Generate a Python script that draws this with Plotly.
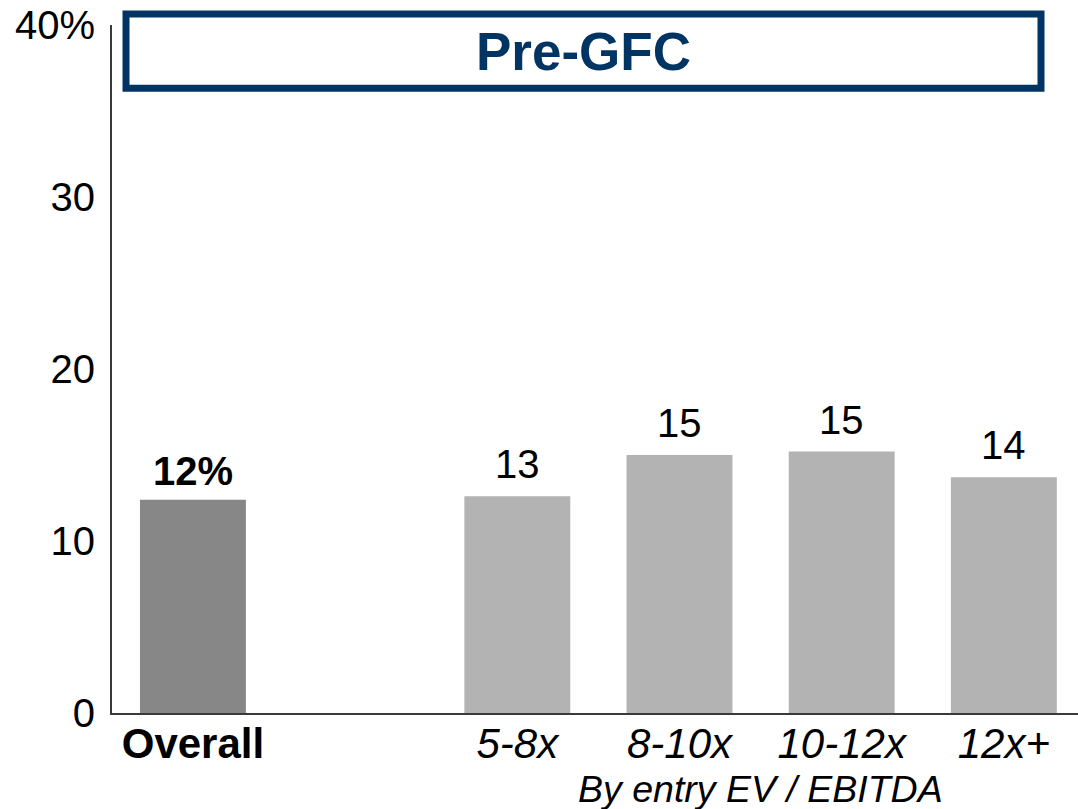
import plotly.graph_objects as go

# Returns by entry EV / EBITDA multiple, pre-GFC deals (%)
overall_label = "Overall"
overall_value = 12.4
bucket_labels = ["5-8x", "8-10x", "10-12x", "12x+"]
bucket_values = [12.6, 15.0, 15.2, 13.7]
y_ticks = [0, 10, 20, 30, 40]
y_tick_text = ["0", "10", "20", "30", "40%"]

FONT = "Liberation Sans, Arial, sans-serif"
NAVY = "#003463"
AXIS = "#3a3a3a"
spacer = " "  # empty slot between the overall bar and the buckets

categories = [overall_label, spacer] + bucket_labels
tick_text = [f"<b>{overall_label}</b>", ""] + [f"<i>{b}</i>" for b in bucket_labels]

fig = go.Figure()
fig.add_trace(go.Bar(
    x=[overall_label], y=[overall_value], width=0.653,
    marker=dict(color="#878787", line=dict(width=0)),
    hoverinfo="skip",
))
fig.add_trace(go.Bar(
    x=bucket_labels, y=bucket_values, width=0.653,
    marker=dict(color="#b3b3b3", line=dict(width=0)),
    hoverinfo="skip",
))

# Value labels above the bars
fig.add_annotation(
    x=overall_label, y=overall_value, text=f"<b>{overall_value:.0f}%</b>",
    showarrow=False, yanchor="middle", yshift=29,
    font=dict(size=40, color="#000000", family=FONT),
)
for lab, val in zip(bucket_labels, bucket_values):
    fig.add_annotation(
        x=lab, y=val, text=f"{val:.0f}",
        showarrow=False, yanchor="middle", yshift=32,
        font=dict(size=40, color="#000000", family=FONT),
    )

# Sub-caption under the bucket labels
fig.add_annotation(
    x=3.5, xref="x", y=-0.11, yref="paper", text="<i>By entry EV / EBITDA</i>",
    showarrow=False, yanchor="middle", xanchor="center",
    font=dict(size=37.5, color="#000000", family=FONT),
)

# Framed heading
fig.add_shape(
    type="rect", xref="paper", yref="paper",
    x0=0.0145, x1=0.9617, y0=0.908, y1=1.016,
    line=dict(color=NAVY, width=7), fillcolor="rgba(0,0,0,0)",
)
fig.add_annotation(
    x=0.488, xref="paper", y=0.961, yref="paper", text="<b>Pre-GFC</b>",
    showarrow=False, yanchor="middle", xanchor="center",
    font=dict(size=53, color=NAVY, family=FONT),
)

fig.update_layout(
    width=1078, height=809,
    margin=dict(l=112, r=0, t=25, b=96),
    paper_bgcolor="white", plot_bgcolor="white",
    showlegend=False,
    bargap=0.35,
    font=dict(family=FONT, color="#000000"),
    xaxis=dict(
        type="category", categoryorder="array", categoryarray=categories,
        tickvals=categories, ticktext=tick_text,
        range=[-0.499, 5.457],
        showline=True, linecolor=AXIS, linewidth=2,
        showgrid=False, zeroline=False, ticks="",
        ticklabelstandoff=-7,
        tickfont=dict(size=42, family=FONT, color="#000000"),
    ),
    yaxis=dict(
        range=[0, 40], tickvals=y_ticks, ticktext=y_tick_text,
        showline=True, linecolor=AXIS, linewidth=2,
        showgrid=False, zeroline=False, ticks="",
        ticklabelstandoff=7,
        tickfont=dict(size=40, family=FONT, color="#000000"),
    ),
)

fig.write_html("out.html")
